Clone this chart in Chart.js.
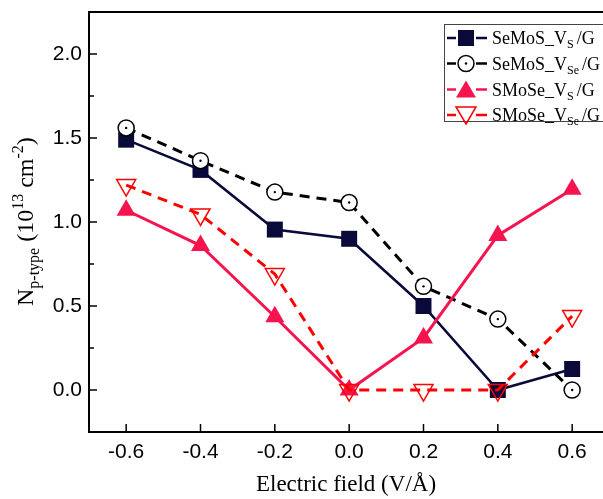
<!DOCTYPE html>
<html>
<head>
<meta charset="utf-8">
<script src="https://cdn.jsdelivr.net/npm/chart.js@4/dist/chart.umd.min.js"></script>
<style>
html,body{margin:0;padding:0;background:#fff;overflow:hidden;}
#wrap{width:603px;height:499px;position:relative;}
</style>
</head>
<body>
<div id="wrap"><canvas id="c" width="603" height="499"></canvas></div>
<script>
const fieldValues = [-0.6, -0.4, -0.2, 0.0, 0.2, 0.4, 0.6];
const semosVS  = [1.49, 1.31, 0.955, 0.90, 0.50, 0.00, 0.125];
const semosVSe = [1.56, 1.365, 1.178, 1.116, 0.617, 0.422, 0.00];
const smoseVS  = [1.07, 0.86, 0.436, 0.00, 0.31, 0.92, 1.195];
const smoseVSe = [1.22, 1.045, 0.69, 0.00, 0.00, 0.00, 0.44];
const xTickValues = [-0.6, -0.4, -0.2, 0.0, 0.2, 0.4, 0.6];
const yTickValues = [0.0, 0.5, 1.0, 1.5, 2.0];
const yMinorValues = [-0.25, 0.25, 0.75, 1.25, 1.75, 2.25];

const NAVY = '#0a0a3a', BLACK = '#000000', CRIMSON = '#f5144e', RED = '#ff0000';

function pts(arr){ return fieldValues.map((x,i)=>({x:x, y:arr[i]})); }

const legendItems = [
  {base:'SeMoS_V', sub:'S', color:NAVY, marker:'square'},
  {base:'SeMoS_V', sub:'Se', color:BLACK, marker:'circle'},
  {base:'SMoSe_V', sub:'S', color:CRIMSON, marker:'tri'},
  {base:'SMoSe_V', sub:'Se', color:RED, marker:'dtri'}
];

function drawMarker(ctx, type, x, y, color){
  ctx.save();
  ctx.setLineDash([]);
  if(type==='square'){
    ctx.fillStyle=color; ctx.fillRect(x-8,y-8,16,16);
  } else if(type==='circle'){
    ctx.beginPath(); ctx.arc(x,y,8,0,Math.PI*2); ctx.fillStyle='#fff'; ctx.fill();
    ctx.lineWidth=1.5; ctx.strokeStyle=color; ctx.stroke();
    ctx.beginPath(); ctx.arc(x,y,1.2,0,Math.PI*2); ctx.fillStyle=color; ctx.fill();
  } else if(type==='tri'){
    ctx.beginPath(); ctx.moveTo(x,y-9); ctx.lineTo(x+10,y+8); ctx.lineTo(x-10,y+8); ctx.closePath();
    ctx.fillStyle=color; ctx.fill();
  } else if(type==='dtri'){
    ctx.beginPath(); ctx.moveTo(x,y+9); ctx.lineTo(x+10,y-8); ctx.lineTo(x-10,y-8); ctx.closePath();
    ctx.lineWidth=1.5; ctx.strokeStyle=color; ctx.stroke();
  }
  ctx.restore();
}

const framePlugin = {
  id:'frame',
  afterDatasetsDraw(chart){
    const ctx = chart.ctx;
    const meta = chart.getDatasetMeta(1);
    ctx.save();
    meta.data.forEach(p=>{ ctx.beginPath(); ctx.arc(p.x,p.y,1.2,0,Math.PI*2); ctx.fillStyle='#000'; ctx.fill(); });
    ctx.restore();
  },
  afterDraw(chart){
    const ctx = chart.ctx, a = chart.chartArea;
    const xs = chart.scales.x, ys = chart.scales.y;
    ctx.save();
    ctx.strokeStyle='#000'; ctx.lineWidth=2;
    ctx.beginPath();
    ctx.moveTo(chart.width, a.top); ctx.lineTo(a.left, a.top); ctx.lineTo(a.left, a.bottom); ctx.lineTo(chart.width, a.bottom);
    ctx.stroke();
    ctx.lineWidth=1.5;
    xTickValues.forEach(v=>{ const px=xs.getPixelForValue(v); ctx.beginPath(); ctx.moveTo(px,a.bottom); ctx.lineTo(px,a.bottom-8); ctx.stroke(); });
    yTickValues.forEach(v=>{ const py=ys.getPixelForValue(v); ctx.beginPath(); ctx.moveTo(a.left,py); ctx.lineTo(a.left+8,py); ctx.stroke(); });
    yMinorValues.forEach(v=>{ const py=ys.getPixelForValue(v); ctx.beginPath(); ctx.moveTo(a.left,py); ctx.lineTo(a.left+5,py); ctx.stroke(); });

    // Y title
    ctx.save();
    ctx.translate(33, 306);
    ctx.rotate(-Math.PI/2);
    ctx.fillStyle='#000'; ctx.textBaseline='alphabetic'; ctx.textAlign='left';
    let x=0;
    const big='24px "Liberation Serif"', small='16px "Liberation Serif"';
    ctx.font=big; ctx.fillText('N',x,0); x+=ctx.measureText('N').width;
    ctx.font=small; ctx.fillText('p-type',x,6); x+=ctx.measureText('p-type').width;
    ctx.font=big; ctx.fillText(' (10',x,0); x+=ctx.measureText(' (10').width;
    ctx.font=small; ctx.fillText('13',x,-10); x+=ctx.measureText('13').width;
    ctx.font=big; ctx.fillText(' cm',x,0); x+=ctx.measureText(' cm').width;
    ctx.font=small; ctx.fillText('-2',x,-10); x+=ctx.measureText('-2').width;
    ctx.font=big; ctx.fillText(')',x,0);
    ctx.restore();

    // Legend
    const lx=444, ly=24, lw=170, lh=97;
    ctx.fillStyle='#fff'; ctx.fillRect(lx,ly,lw,lh);
    ctx.strokeStyle='#444'; ctx.lineWidth=1; ctx.strokeRect(lx+0.5,ly+0.5,lw,lh);
    const rows=[38,63.5,89.5,115];
    legendItems.forEach((it,i)=>{
      const cy=rows[i];
      ctx.save();
      ctx.strokeStyle=it.color; ctx.lineWidth=2.5; ctx.setLineDash([]);
      ctx.beginPath(); ctx.moveTo(447,cy); ctx.lineTo(456,cy); ctx.stroke();
      ctx.beginPath(); ctx.moveTo(476,cy); ctx.lineTo(487,cy); ctx.stroke();
      ctx.restore();
      drawMarker(ctx,it.marker,466,cy,it.color);
      ctx.fillStyle='#000'; ctx.textBaseline='alphabetic'; ctx.textAlign='left';
      let tx=492;
      ctx.font='18px "Liberation Serif"'; ctx.fillText(it.base,tx,cy+6); tx+=ctx.measureText(it.base).width;
      ctx.font='12px "Liberation Serif"'; ctx.fillText(it.sub,tx,cy+10); tx+=ctx.measureText(it.sub).width+3;
      ctx.font='18px "Liberation Serif"'; ctx.fillText('/G',tx,cy+6);
    });
    ctx.restore();
  }
};

new Chart(document.getElementById('c'), {
  type:'line',
  data:{
    datasets:[
      {label:'SeMoS_VS/G', data:pts(semosVS), borderColor:NAVY, backgroundColor:NAVY, borderWidth:2.5,
       pointStyle:'rect', pointRadius:11.3, pointBorderWidth:0, order:4},
      {label:'SeMoS_VSe/G', data:pts(semosVSe), borderColor:BLACK, backgroundColor:'#fff', borderWidth:3, borderDash:[10,7],
       pointStyle:'circle', pointRadius:8, pointBorderWidth:1.5, order:3},
      {label:'SMoSe_VS/G', data:pts(smoseVS), borderColor:CRIMSON, backgroundColor:CRIMSON, borderWidth:3,
       pointStyle:'triangle', pointRadius:11, pointBorderWidth:0, order:2},
      {label:'SMoSe_VSe/G', data:pts(smoseVSe), borderColor:RED, backgroundColor:'rgba(0,0,0,0)', borderWidth:3, borderDash:[10,7],
       pointStyle:'triangle', rotation:180, pointRotation:180, pointRadius:11, pointBorderWidth:1.5, order:1}
    ]
  },
  options:{
    responsive:false, animation:false, devicePixelRatio:1,
    layout:{autoPadding:false, padding:{top:12,right:0,left:0,bottom:0}},
    plugins:{legend:{display:false}, tooltip:{enabled:false}},
    elements:{line:{tension:0}},
    scales:{
      x:{type:'linear', min:-0.7, max:0.683,
        afterBuildTicks(s){ s.ticks = xTickValues.map(v=>({value:v})); },
        afterFit(s){ s.height = 67; s.paddingLeft = 0; s.paddingRight = 0; },
        grid:{display:false, drawTicks:false}, border:{display:false},
        ticks:{color:'#000', padding:8, font:{family:'"Liberation Sans"', size:21}, maxRotation:0,
          callback:v=>v.toFixed(1)},
        title:{display:true, text:'Electric field (V/Å)', color:'#000', font:{family:'"Liberation Serif"', size:23}, padding:{top:0,bottom:0}}
      },
      y:{type:'linear', min:-0.25, max:2.25,
        afterBuildTicks(s){ s.ticks = yTickValues.map(v=>({value:v})); },
        afterFit(s){ s.width = 89; s.paddingTop = 0; s.paddingBottom = 0; },
        grid:{display:false, drawTicks:false}, border:{display:false},
        ticks:{color:'#000', padding:7, font:{family:'"Liberation Sans"', size:21},
          callback:v=>v.toFixed(1)}
      }
    }
  },
  plugins:[framePlugin]
});
</script>
</body>
</html>
